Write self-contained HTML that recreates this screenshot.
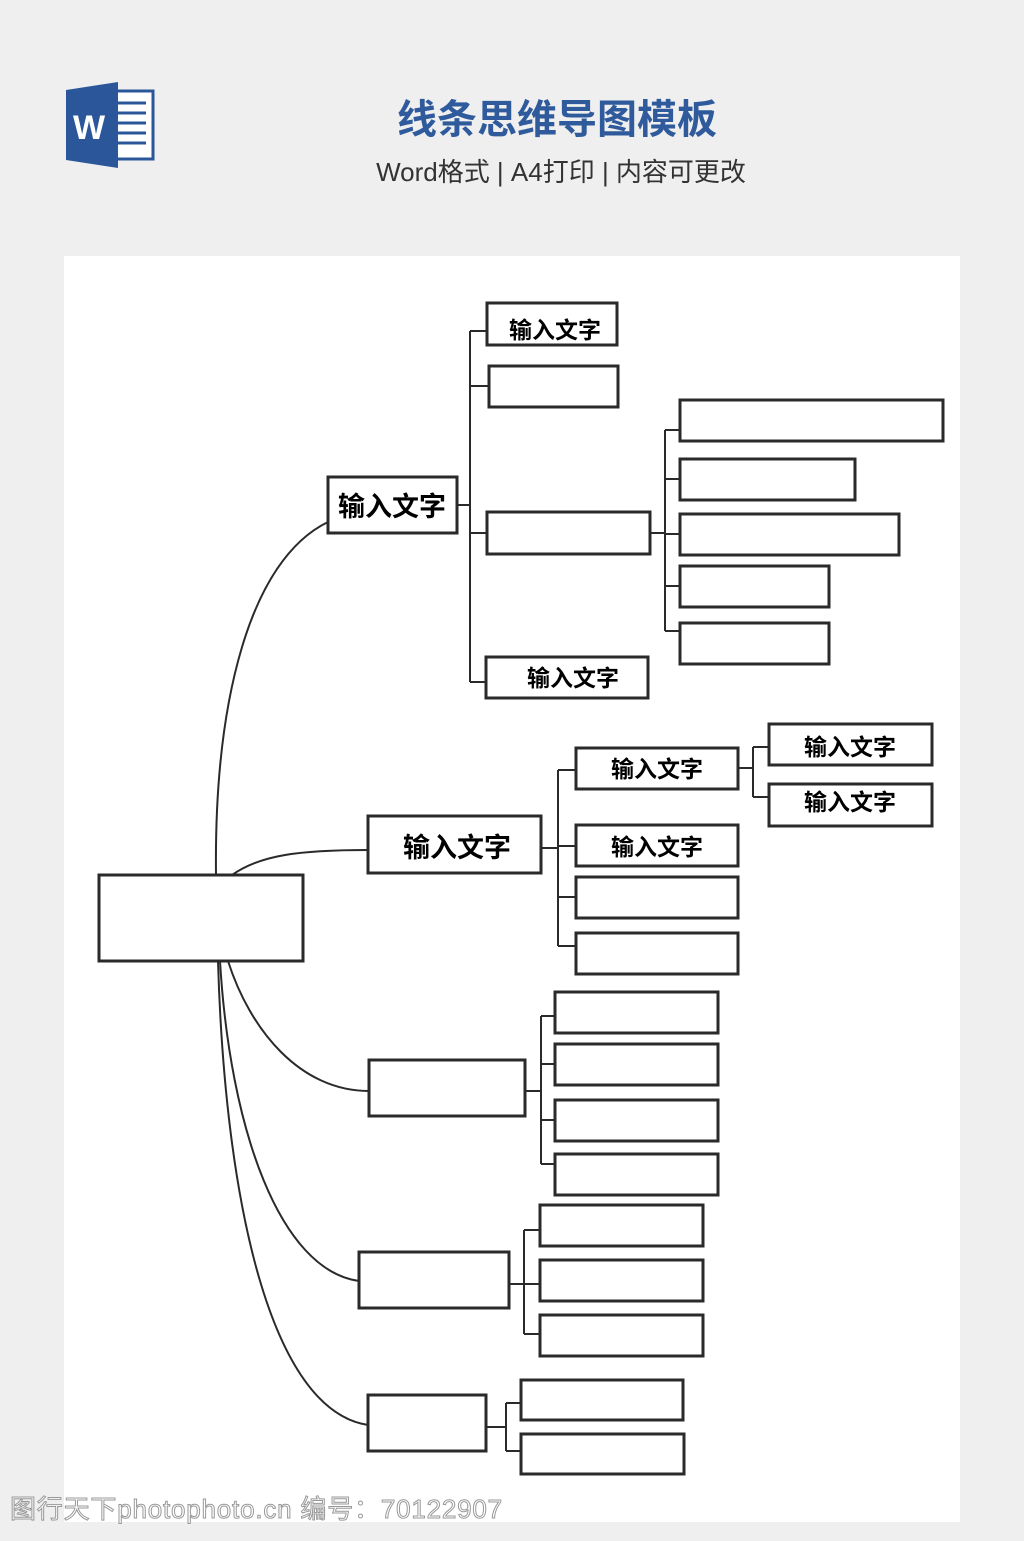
<!DOCTYPE html>
<html><head><meta charset="utf-8"><style>
body{margin:0;width:1024px;height:1536px;background:#efefef;overflow:hidden;font-family:"Liberation Sans","Noto Sans CJK SC",sans-serif}
</style></head><body>
<svg width="1024" height="1536" xmlns="http://www.w3.org/2000/svg">
<rect x="110" y="91" width="43" height="68" fill="#fff" stroke="#2b579a" stroke-width="3"/>
<g stroke="#2b579a" stroke-width="3"><line x1="118" y1="103" x2="146" y2="103"/><line x1="118" y1="113" x2="146" y2="113"/><line x1="118" y1="123" x2="146" y2="123"/><line x1="118" y1="133" x2="146" y2="133"/><line x1="118" y1="143" x2="146" y2="143"/></g>
<polygon points="66,90 118,82 118,168 66,160" fill="#2b579a"/>
<text x="73" y="139" font-size="34" font-weight="bold" fill="#fff" font-family="Liberation Sans,sans-serif">W</text>
<text x="557" y="133" text-anchor="middle" font-size="40" font-weight="bold" fill="#2f5b9c" font-family="Liberation Sans,Noto Sans CJK SC,sans-serif">线条思维导图模板</text>
<text x="561" y="181" text-anchor="middle" font-size="26" fill="#333" font-family="Liberation Sans,Noto Sans CJK SC,sans-serif">Word格式 | A4打印 | 内容可更改</text>
<rect x="64" y="256" width="896" height="1266" fill="#fff"/>
<g fill="none" stroke="#2a2a2a" stroke-width="2">
<path d="M216,875 C214,700 250,560 328,522"/>
<path d="M232,875 C260,855 300,850 368,850"/>
<path d="M228,961 C250,1030 300,1091 369,1091"/>
<path d="M220,961 C230,1130 280,1270 359,1281"/>
<path d="M218,961 C225,1200 270,1410 368,1425"/>
<path d="M457,505 H470 M470,331 V682 M470,331 H487 M470,386 H489 M470,533 H487 M470,682 H486"/>
<path d="M650,533 H665 M665,430 V631 M665,430 H680 M665,479 H680 M665,534 H680 M665,586 H680 M665,631 H680"/>
<path d="M541,848 H558 M558,770 V946 M558,770 H576 M558,846 H576 M558,897 H576 M558,946 H576"/>
<path d="M738,768 H753 M753,747 V797 M753,747 H769 M753,797 H769"/>
<path d="M525,1091 H541 M541,1016 V1164 M541,1016 H555 M541,1064 H555 M541,1120 H555 M541,1164 H555"/>
<path d="M509,1284 H524 M524,1230 V1334 M524,1230 H540 M524,1284 H540 M524,1334 H540"/>
<path d="M486,1427 H506 M506,1403 V1451 M506,1403 H521 M506,1451 H521"/>
</g>
<g fill="#fff" stroke="#2a2a2a" stroke-width="3">
<rect x="99" y="875" width="204" height="86"/>
<rect x="328" y="477" width="129" height="56"/>
<rect x="487" y="303" width="130" height="42"/>
<rect x="489" y="366" width="129" height="41"/>
<rect x="487" y="512" width="163" height="42"/>
<rect x="486" y="657" width="162" height="41"/>
<rect x="680" y="400" width="263" height="41"/>
<rect x="680" y="459" width="175" height="41"/>
<rect x="680" y="514" width="219" height="41"/>
<rect x="680" y="566" width="149" height="41"/>
<rect x="680" y="623" width="149" height="41"/>
<rect x="368" y="816" width="173" height="57"/>
<rect x="576" y="748" width="162" height="41"/>
<rect x="576" y="825" width="162" height="41"/>
<rect x="576" y="877" width="162" height="41"/>
<rect x="576" y="933" width="162" height="41"/>
<rect x="769" y="724" width="163" height="41"/>
<rect x="769" y="784" width="163" height="42"/>
<rect x="369" y="1060" width="156" height="56"/>
<rect x="555" y="992" width="163" height="41"/>
<rect x="555" y="1044" width="163" height="41"/>
<rect x="555" y="1100" width="163" height="41"/>
<rect x="555" y="1154" width="163" height="41"/>
<rect x="359" y="1252" width="150" height="56"/>
<rect x="540" y="1205" width="163" height="41"/>
<rect x="540" y="1260" width="163" height="41"/>
<rect x="540" y="1315" width="163" height="41"/>
<rect x="368" y="1395" width="118" height="56"/>
<rect x="521" y="1380" width="162" height="40"/>
<rect x="521" y="1434" width="163" height="40"/>
</g>
<g font-weight="bold" fill="#000" text-anchor="middle" font-family="Liberation Sans,Noto Sans CJK SC,sans-serif">
<text x="392" y="516" font-size="27">输入文字</text>
<text x="555" y="338" font-size="23">输入文字</text>
<text x="573" y="686" font-size="23">输入文字</text>
<text x="457" y="857" font-size="27">输入文字</text>
<text x="657" y="777" font-size="23">输入文字</text>
<text x="657" y="855" font-size="23">输入文字</text>
<text x="850" y="755" font-size="23">输入文字</text>
<text x="850" y="810" font-size="23">输入文字</text>
</g>
<text x="10" y="1518" font-size="26" letter-spacing="0.8" fill="#fff" stroke="#999" stroke-width="1" font-family="Liberation Sans,Noto Sans CJK SC,sans-serif">图行天下photophoto.cn 编号：70122907</text>
</svg>
</body></html>
